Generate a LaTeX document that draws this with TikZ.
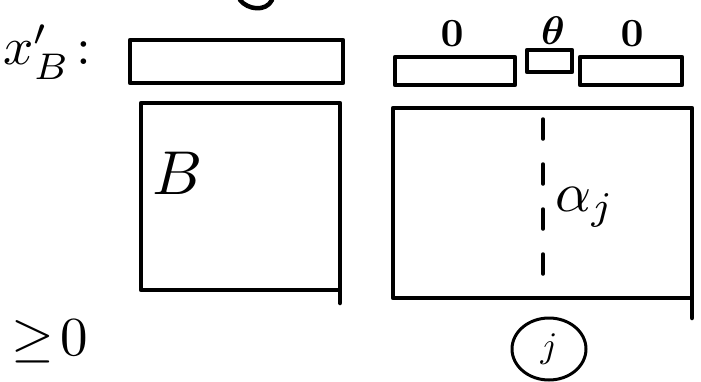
\documentclass[tikz,border=0pt]{standalone}
\usepackage{amsmath, amssymb, amsfonts}
\usepackage{xcolor}

\begin{document}
\begin{tikzpicture}[x=1pt, y=-1pt, line width=4.5pt, line cap=round, line join=round]
    \useasboundingbox (0,0) rectangle (701,381);

    % Boxes
    \draw (130,40) rectangle (343,83);
    \draw (141,103) rectangle (340,290);
    \draw (340,290) -- (340,303);
    \draw (393,108) rectangle (692,298);
    \draw (692,298) -- (692,318);
    \draw (395,57) rectangle (515,85);
    \draw (527,50) rectangle (572,72);
    \draw (580,57) rectangle (682,85);
    \draw[line width=3.5pt, dash pattern=on 20pt off 25pt] (543,119) -- (543,297);
    \draw (240,0) .. controls (248,10) and (266,12) .. (272,0);

    % Nodes
    \node[scale=5.3] (xB) at (56,52) {$x'_B\colon$};
    \node[scale=6.2] (B) at (178,173) {$B$};
    \node[scale=5.6] (aj) at (585,207) {$\alpha_j$};
    \node[scale=4] (z1) at (452,34) {$\mathbf{0}$};
    \node[scale=4] (z2) at (553,31) {$\boldsymbol{\theta}$};
    \node[scale=4] (z3) at (632,34) {$\mathbf{0}$};
    \node[scale=5.5] (geq) at (50,342) {$\geq\!0$};
    \node[scale=3.6] (j) at (549,349) {$j$};
    \draw[line width=3pt] (j.center) ellipse [x radius=37, y radius=31];
\end{tikzpicture}
\end{document}
